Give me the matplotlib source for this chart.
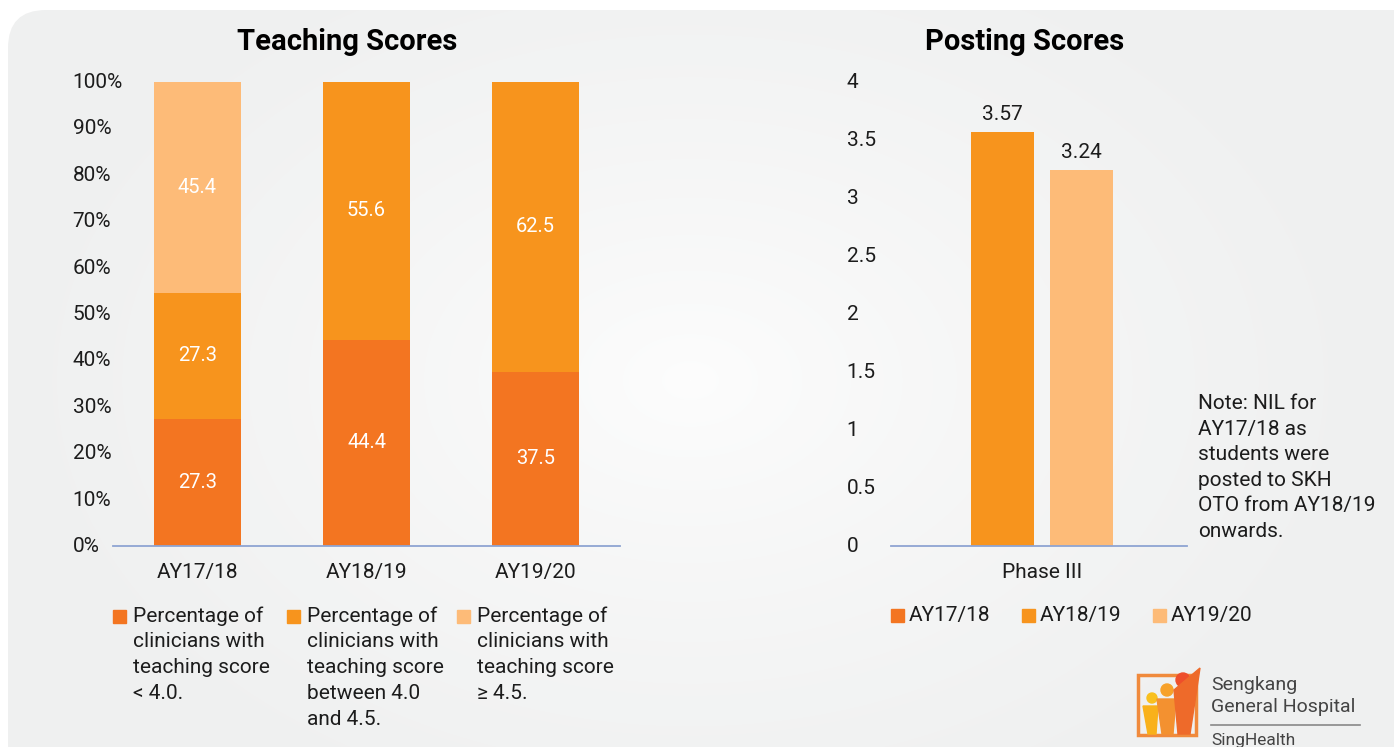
import numpy as np
import matplotlib
matplotlib.use("Agg")
import matplotlib.pyplot as plt
from matplotlib.patches import FancyBboxPatch, Rectangle, Circle, Polygon
from matplotlib.colors import to_rgb
from matplotlib.transforms import ScaledTranslation

plt.rcParams["font.family"] = ["Roboto", "DejaVu Sans"]

# ---- data ----
years = ["AY17/18", "AY18/19", "AY19/20"]
teach_below_40 = [27.3, 44.4, 37.5]
teach_40_to_45 = [27.3, 55.6, 62.5]
teach_above_45 = [45.4, 0.0, 0.0]
teach_labels = [
    "Percentage of\nclinicians with\nteaching score\n< 4.0.",
    "Percentage of\nclinicians with\nteaching score\nbetween 4.0\nand 4.5.",
    "Percentage of\nclinicians with\nteaching score\n\u2265 4.5.",
]
teach_ticks = list(range(0, 101, 10))

post_category = "Phase III"
post_values = [np.nan, 3.57, 3.24]   # AY17/18 is NIL
post_ticks = [0, 0.5, 1, 1.5, 2, 2.5, 3, 3.5, 4]

note = "Note: NIL for\nAY17/18 as\nstudents were\nposted to SKH\nOTO from AY18/19\nonwards."

colors = ["#F37521", "#F7941D", "#FDBB78"]
text_col = "#1c1c1c"
axis_col = "#8EA4D2"

W, H = 1394, 747
fig = plt.figure(figsize=(W / 100, H / 100), dpi=100)
fig.patch.set_facecolor("white")


def px_axes(x0, y0, x1, y1, **kw):
    return fig.add_axes([x0 / W, 1 - y1 / H, (x1 - x0) / W, (y1 - y0) / H], **kw)


# ---- card background with soft radial gradient ----
bg = px_axes(0, 0, W, H)
bg.set_xlim(0, W)
bg.set_ylim(H, 0)
bg.axis("off")
yy, xx = np.mgrid[0:H, 0:W]
d = np.sqrt(((xx - 690) / 700) ** 2 + ((yy - 380) / 480) ** 2)
d = np.clip(d, 0, 1)[..., None] ** 0.8
c_in = np.array(to_rgb("#fdfdfd"))
c_out = np.array(to_rgb("#eff0f0"))
img = bg.imshow(c_in + (c_out - c_in) * d, extent=(0, W, H, 0), interpolation="bilinear")
card = FancyBboxPatch((8, 10), W + 40, H + 40, boxstyle="round,pad=0,rounding_size=38",
                      transform=bg.transData, facecolor="none", edgecolor="none")
bg.add_patch(card)
img.set_clip_path(card)
bg.set_xlim(0, W)
bg.set_ylim(H, 0)

lift = ScaledTranslation(0, 1.5 / 100, fig.dpi_scale_trans)


def style_axes(ax):
    ax.set_facecolor("none")
    for s in ["top", "right", "left"]:
        ax.spines[s].set_visible(False)
    ax.spines["bottom"].set_color(axis_col)
    ax.spines["bottom"].set_linewidth(1.3)
    ax.tick_params(length=0, labelsize=15, labelcolor=text_col)


# ---- Teaching Scores ----
ax1 = px_axes(113, 82, 620, 546)
style_axes(ax1)
x = np.arange(len(years))
bottom = np.zeros(len(years))
for vals, col in zip([teach_below_40, teach_40_to_45, teach_above_45], colors):
    vals = np.array(vals)
    ax1.bar(x, vals, 0.51, bottom=bottom, color=col, zorder=2)
    for xi, b, v in zip(x, bottom, vals):
        if v > 0:
            ax1.text(xi, b + v / 2, f"{v:.1f}", ha="center", va="center",
                     color="white", fontsize=14.5, zorder=3)
    bottom += vals
ax1.set_xlim(-0.5, 2.5)
ax1.set_ylim(0, 100)
ax1.set_yticks(teach_ticks, [f"{t}%" for t in teach_ticks])
ax1.set_xticks(x, years)
ax1.tick_params(axis="y", pad=29)
ax1.tick_params(axis="x", pad=12)
for lab in ax1.get_yticklabels():
    lab.set_horizontalalignment("left")
    lab.set_transform(lab.get_transform() + lift)

# legend (square aligned to first line)
for lx, col, lab in zip([113, 287, 457], colors, teach_labels):
    fig.patches.append(Rectangle((lx / W, 1 - 623 / H), 13 / W, 13 / H,
                                 transform=fig.transFigure, color=col))
    fig.text((lx + 20) / W, 1 - 606 / H, lab, ha="left", va="top", fontsize=15,
             color=text_col, linespacing=1.46)

fig.text(347 / W, 1 - 42 / H, "Teaching Scores", ha="center", va="center",
         fontsize=21, fontweight="bold", color="black")

# ---- Posting Scores ----
ax2 = px_axes(891, 82, 1187, 546)
style_axes(ax2)
present = [i for i, v in enumerate(post_values) if not np.isnan(v)]
spacing, width = 0.269, 0.213
for k, i in enumerate(present):
    xo = (k - (len(present) - 1) / 2) * spacing
    v = post_values[i]
    ax2.bar(xo, v, width, color=colors[i], zorder=2)
    ax2.annotate(f"{v:.2f}", (xo, v), xytext=(0, 6), textcoords="offset points",
                 ha="center", va="bottom", fontsize=15, color=text_col)
ax2.set_xlim(-0.51, 0.49)
ax2.set_ylim(0, 4)
ax2.set_yticks(post_ticks, [f"{t:g}" for t in post_ticks])
ax2.set_xticks([0], [post_category])
ax2.tick_params(axis="y", pad=32)
ax2.tick_params(axis="x", pad=12)
for lab in ax2.get_yticklabels():
    lab.set_horizontalalignment("left")
    lab.set_transform(lab.get_transform() + lift)

for lx, col, lab in zip([891, 1022, 1153], colors, years):
    fig.patches.append(Rectangle((lx / W, 1 - 622 / H), 13 / W, 13 / H,
                                 transform=fig.transFigure, color=col))
    fig.text((lx + 18) / W, 1 - 615 / H, lab, ha="left", va="center", fontsize=15,
             color=text_col)

fig.text(1025 / W, 1 - 42 / H, "Posting Scores", ha="center", va="center",
         fontsize=21, fontweight="bold", color="black")
fig.text(1198 / W, 1 - 394 / H, note, ha="left", va="top", fontsize=15,
         color=text_col, linespacing=1.44)

# ---- logo ----
lg = bg
lg.add_patch(Rectangle((1138, 675), 58, 60, fill=False, edgecolor="#F08A3C", lw=2.5))
lg.add_patch(Circle((1152, 698), 5, color="#F9C01E"))
lg.add_patch(Polygon([(1143, 706), (1158, 706), (1156, 734), (1148, 734)], color="#F9B11A"))
lg.add_patch(Circle((1167, 690), 6, color="#F7A12A"))
lg.add_patch(Polygon([(1157, 699), (1176, 699), (1173, 734), (1162, 734)], color="#F39130"))
lg.add_patch(Circle((1183, 680), 7, color="#EE4E2B"))
lg.add_patch(Polygon([(1174, 690), (1200, 668), (1190, 734), (1178, 734)], color="#EE6A2A"))
fig.text(1211 / W, 1 - 685 / H, "Sengkang", fontsize=14, color="#444444", va="center")
fig.text(1211 / W, 1 - 707 / H, "General Hospital", fontsize=14, color="#444444", va="center")
lg.plot([1211, 1360], [725, 725], color="#888888", lw=1.2)
fig.text(1211 / W, 1 - 741 / H, "SingHealth", fontsize=12.5, color="#444444", va="center")

fig.savefig("out.png", dpi=100)
